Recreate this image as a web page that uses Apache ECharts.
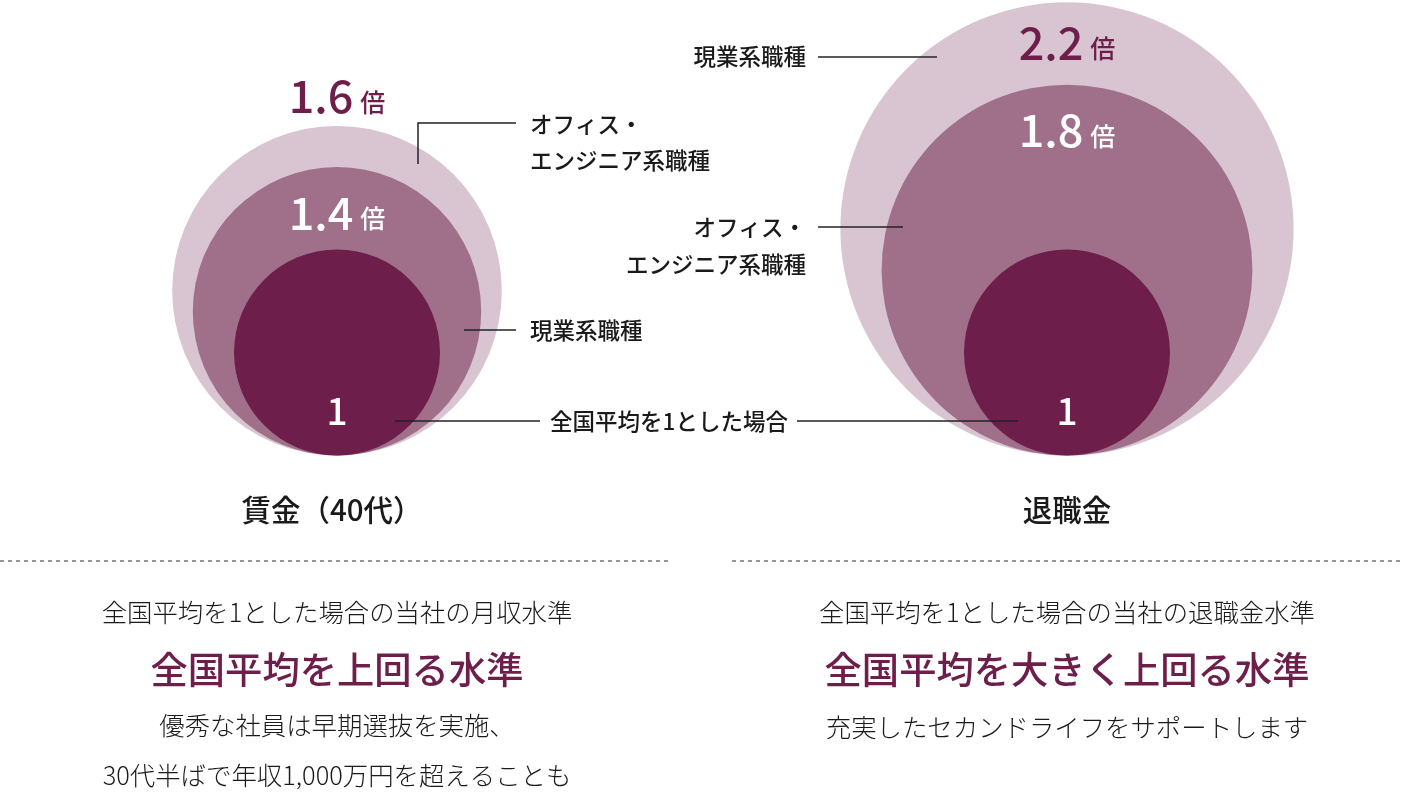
<!DOCTYPE html>
<html>
<head>
<meta charset="utf-8">
<script src="https://cdn.jsdelivr.net/npm/echarts@6/dist/echarts.min.js"></script>
<style>
html,body{margin:0;padding:0;background:#fff;}
#main{width:1404px;height:792px;}
</style>
</head>
<body>
<div id="main"></div>
<script>
// ---- data ----
const categories = ['賃金（40代）', '退職金'];
const officeValues = [1.6, 1.8];   // オフィス・エンジニア系職種
const fieldValues = [1.4, 2.2];    // 現業系職種
const averageValues = [1, 1];      // 全国平均を1とした場合

// ---- styles ----
const FONT = "'Noto Sans CJK JP', 'Noto Sans', sans-serif";
const ringColors = ['#d9c5d2', '#a0708b', '#6d1e4a'];
const purple = '#6d1e4a';
const ink = '#1a1a1a';

// build circle list: per category, sorted largest first
const circles = [];
categories.forEach((c, i) => {
  const vals = [officeValues[i], fieldValues[i], averageValues[i]].sort((a, b) => b - a);
  vals.forEach((v, rank) => {
    circles.push([i, v, rank, rank < 2 ? vals[rank + 1] : 0]);
  });
});
circles.sort((a, b) => a[2] - b[2]);

function fmt(v) { return v === 1 ? '1' : v.toFixed(1); }

const chart = echarts.init(document.getElementById('main'), null, { renderer: 'canvas' });

const option = {
  backgroundColor: '#ffffff',
  animation: false,
  grid: { left: 337, width: 730, top: 2.3, height: 453.2, containLabel: false },
  xAxis: { type: 'category', data: categories, boundaryGap: false, show: false },
  yAxis: { type: 'value', min: 0, max: 4.4, show: false },
  series: [
    {
      type: 'custom',
      data: circles,
      z: 1,
      renderItem: function (params, api) {
        const v = api.value(1);
        const rank = api.value(2);
        const c = api.coord([api.value(0), v]);
        const r = api.size([0, v])[1];
        return {
          type: 'circle',
          shape: { cx: c[0], cy: c[1], r: r },
          style: { fill: ringColors[rank] }
        };
      }
    },
    {
      type: 'custom',
      data: circles,
      z: 5,
      renderItem: function (params, api) {
        const v = api.value(1);
        const rank = api.value(2);
        const next = api.value(3);
        const c = api.coord([api.value(0), v]);
        const r = api.size([0, v])[1];
        const top = c[1] - r;
        const bottom = c[1] + r;
        let y, color;
        if (rank === 2) {
          y = bottom - 50; color = '#ffffff';
        } else if (rank === 1) {
          y = top + 44; color = '#ffffff';
        } else {
          const ring = api.size([0, 2 * (v - next)])[1];
          if (ring < 60) { y = top - 31; } else { y = top + 39; }
          color = purple;
        }
        const text = rank === 2 ? '{n|' + fmt(v) + '}' : '{n|' + fmt(v) + '}{u|倍}';
        return {
          type: 'text',
          x: c[0], y: y,
          style: {
            text: text,
            align: 'center', verticalAlign: 'middle',
            textAlign: 'center', textVerticalAlign: 'middle',
            fill: color,
            rich: {
              n: { fontSize: rank === 2 ? 37 : 45, fontFamily: FONT, fontWeight: 500, fill: color, color: color, verticalAlign: 'bottom', lineHeight: 48 },
              u: { fontSize: 25, fontFamily: FONT, fontWeight: 500, fill: color, color: color, verticalAlign: 'bottom', lineHeight: 48, padding: [0, 0, 4, 7] }
            }
          }
        };
      }
    }
  ],
  graphic: []
};

function txt(text, x, y, size, opts) {
  opts = opts || {};
  return {
    type: 'text', z: 10,
    style: {
      text: text, x: x, y: y,
      fill: opts.fill || ink,
      fontSize: size, fontFamily: FONT, fontWeight: opts.weight || 400,
      textAlign: opts.align || 'center', align: opts.align || 'center',
      textVerticalAlign: 'middle', verticalAlign: 'middle',
      lineHeight: opts.lineHeight || size * 1.6
    }
  };
}
function line(x1, y1, x2, y2, dash) {
  return {
    type: 'line', z: 10,
    shape: { x1: x1, y1: y1, x2: x2, y2: y2 },
    style: { stroke: dash ? '#555' : '#222', lineWidth: dash ? 1.2 : 1.5, lineDash: dash ? [4, 4] : null }
  };
}

const g = [];
const AN = 22.5;
// left annotations
g.push({ type: 'polyline', z: 10, shape: { points: [[418, 164], [418, 123], [516, 123]] }, style: { stroke: '#222', lineWidth: 1.5, fill: null } });
g.push(txt('オフィス・\nエンジニア系職種', 530, 142, AN, { align: 'left', weight: 500, lineHeight: 36 }));
g.push(line(464, 330, 516, 330));
g.push(txt('現業系職種', 530, 330, AN, { align: 'left', weight: 500 }));
g.push(line(395, 421, 540, 421));
g.push(line(797, 421, 1018, 421));
g.push(txt('全国平均を1とした場合', 669, 421, AN, { weight: 500 }));
// right annotations
g.push(line(818, 57, 937, 57));
g.push(txt('現業系職種', 806, 56, AN, { align: 'right', weight: 500 }));
g.push(line(818, 227, 903, 227));
g.push(txt('オフィス・\nエンジニア系職種', 806, 246, AN, { align: 'right', weight: 500, lineHeight: 37 }));
// titles
g.push(txt(categories[0], 332, 510, 29.5, { weight: 500 }));
g.push(txt(categories[1], 1067, 510, 29.5, { weight: 500 }));
// dashed separators
g.push(line(0, 561, 670, 561, true));
g.push(line(732, 561, 1404, 561, true));
// left text block
const BT = 25.4, HT = 37.3;
g.push(txt('全国平均を1とした場合の当社の月収水準', 337, 612, BT, { weight: 300 }));
g.push(txt('全国平均を上回る水準', 337, 670, HT, { weight: 500, fill: purple }));
g.push(txt('優秀な社員は早期選抜を実施、', 337, 725, BT, { weight: 300 }));
g.push(txt('30代半ばで年収1,000万円を超えることも', 337, 775, BT, { weight: 300 }));
// right text block
g.push(txt('全国平均を1とした場合の当社の退職金水準', 1067, 612, BT, { weight: 300 }));
g.push(txt('全国平均を大きく上回る水準', 1067, 670, HT, { weight: 500, fill: purple }));
g.push(txt('充実したセカンドライフをサポートします', 1067, 727, BT, { weight: 300 }));

option.graphic = g;
chart.setOption(option);
</script>
</body>
</html>
